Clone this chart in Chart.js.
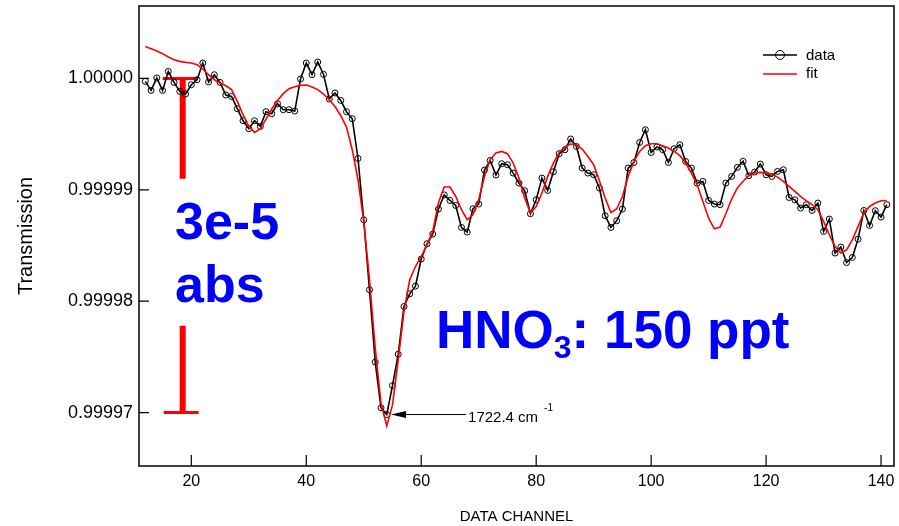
<!DOCTYPE html>
<html>
<head>
<meta charset="utf-8">
<script src="https://cdn.jsdelivr.net/npm/chart.js@4.4.1/dist/chart.umd.min.js"></script>
<style>
  html, body { margin: 0; padding: 0; background: #fff; }
</style>
</head>
<body>
<canvas id="spec" width="899" height="526"></canvas>
<script>
/* HNO3 transmission spectrum: measured channels vs. fitted line shape */

const channels = Array.from({ length: 130 }, (_, i) => 12 + i);   // 12 .. 141

const dataValues = [
  0.99999973, 0.99999892, 1.00000004, 0.99999892, 1.00000063, 0.99999964, 0.99999883, 0.99999860, 0.99999943, 0.99999988,
  1.00000138, 0.99999968, 1.00000033, 0.99999964, 0.99999851, 0.99999838, 0.99999728, 0.99999620, 0.99999548, 0.99999620,
  0.99999569, 0.99999701, 0.99999683, 0.99999773, 0.99999719, 0.99999719, 0.99999707, 0.99999995, 1.00000138, 1.00000033,
  1.00000147, 1.00000036, 0.99999815, 0.99999869, 0.99999802, 0.99999701, 0.99999638, 0.99999281, 0.99998731, 0.99998102,
  0.99997453, 0.99997042, 0.99996982, 0.99997242, 0.99997524, 0.99997952, 0.99998066, 0.99998135, 0.99998378, 0.99998515,
  0.99998602, 0.99998827, 0.99998954, 0.99998904, 0.99998859, 0.99998662, 0.99998620, 0.99998830, 0.99998872, 0.99999177,
  0.99999263, 0.99999132, 0.99999234, 0.99999225, 0.99999150, 0.99999060, 0.99998991, 0.99998785, 0.99998910, 0.99999105,
  0.99998994, 0.99999162, 0.99999324, 0.99999360, 0.99999456, 0.99999389, 0.99999195, 0.99999150, 0.99999135, 0.99999016,
  0.99998767, 0.99998662, 0.99998722, 0.99998827, 0.99999195, 0.99999245, 0.99999425, 0.99999539, 0.99999335, 0.99999384,
  0.99999360, 0.99999245, 0.99999369, 0.99999404, 0.99999254, 0.99999195, 0.99999060, 0.99999075, 0.99998904, 0.99998872,
  0.99998866, 0.99999060, 0.99999120, 0.99999201, 0.99999256, 0.99999126, 0.99999159, 0.99999231, 0.99999135, 0.99999120,
  0.99999165, 0.99999180, 0.99998931, 0.99998910, 0.99998836, 0.99998866, 0.99998814, 0.99998881, 0.99998626, 0.99998737,
  0.99998432, 0.99998486, 0.99998347, 0.99998392, 0.99998557, 0.99998814, 0.99998680, 0.99998812, 0.99998755, 0.99998866
];

const fitValues = [
  1.00000287, 1.00000267, 1.00000246, 1.00000222, 1.00000192, 1.00000168, 1.00000153, 1.00000144, 1.00000138, 1.00000123,
  1.00000084, 1.00000033, 0.99999988, 0.99999959, 0.99999934, 0.99999899, 0.99999793, 0.99999674, 0.99999569, 0.99999515,
  0.99999546, 0.99999635, 0.99999725, 0.99999802, 0.99999863, 0.99999907, 0.99999925, 0.99999937, 0.99999941, 0.99999923,
  0.99999899, 0.99999860, 0.99999809, 0.99999748, 0.99999665, 0.99999563, 0.99999360, 0.99999090, 0.99998716, 0.99998192,
  0.99997578, 0.99997084, 0.99996880, 0.99997069, 0.99997473, 0.99997907, 0.99998192, 0.99998311, 0.99998401, 0.99998506,
  0.99998626, 0.99998883, 0.99999025, 0.99999025, 0.99998940, 0.99998821, 0.99998731, 0.99998776, 0.99998910, 0.99999120,
  0.99999270, 0.99999330, 0.99999344, 0.99999324, 0.99999240, 0.99999105, 0.99998926, 0.99998791, 0.99998850, 0.99998971,
  0.99999120, 0.99999240, 0.99999335, 0.99999384, 0.99999411, 0.99999404, 0.99999366, 0.99999299, 0.99999225, 0.99999081,
  0.99998926, 0.99998796, 0.99998827, 0.99998940, 0.99999120, 0.99999254, 0.99999344, 0.99999395, 0.99999413, 0.99999413,
  0.99999395, 0.99999375, 0.99999344, 0.99999306, 0.99999240, 0.99999150, 0.99999045, 0.99998895, 0.99998746, 0.99998650,
  0.99998665, 0.99998785, 0.99998917, 0.99999016, 0.99999077, 0.99999126, 0.99999150, 0.99999156, 0.99999150, 0.99999141,
  0.99999114, 0.99999075, 0.99999030, 0.99998985, 0.99998940, 0.99998901, 0.99998866, 0.99998821, 0.99998716, 0.99998596,
  0.99998491, 0.99998432, 0.99998461, 0.99998551, 0.99998671, 0.99998791, 0.99998850, 0.99998881, 0.99998901, 0.99998904
];

const xTicks = [20, 40, 60, 80, 100, 120, 140];
const yTicks = [0.99997, 0.99998, 0.99999, 1.0];
const xRange = [10.9, 142.25];
const yRange = [0.9999652, 1.0000065];

const FONT = 'Arial, "Liberation Sans", Helvetica, sans-serif';
const BLUE = '#0000ff';
const RED = '#ff0000';

// scale bar showing 3e-5 absorbance, drawn in data space beneath the traces
const scaleBar = { channel: 18.5, top: 1.0, bottom: 0.99997, gapTop: 0.999991, gapBottom: 0.9999778 };
const peakChannel = 54;

const underlay = {
  id: 'underlay',
  beforeDatasetsDraw(chart) {
    const { ctx, scales: { x, y } } = chart;
    const bx = x.getPixelForValue(scaleBar.channel);
    const yTop = y.getPixelForValue(scaleBar.top);
    const yBot = y.getPixelForValue(scaleBar.bottom);
    ctx.save();
    ctx.strokeStyle = RED;
    ctx.lineWidth = 6;
    ctx.beginPath();
    ctx.moveTo(bx, yTop); ctx.lineTo(bx, y.getPixelForValue(scaleBar.gapTop));
    ctx.moveTo(bx, y.getPixelForValue(scaleBar.gapBottom)); ctx.lineTo(bx, yBot);
    ctx.stroke();
    ctx.lineWidth = 3;
    ctx.beginPath();
    ctx.moveTo(bx - 20, yTop); ctx.lineTo(bx + 15, yTop);
    ctx.moveTo(bx - 19, yBot); ctx.lineTo(bx + 16, yBot);
    ctx.stroke();
    ctx.restore();
  }
};

const overlay = {
  id: 'overlay',
  afterDraw(chart) {
    const { ctx, chartArea: a, scales: { x, y } } = chart;
    ctx.save();

    // frame + inward tick marks
    ctx.strokeStyle = '#000';
    ctx.lineWidth = 1.5;
    ctx.strokeRect(a.left, a.top, a.right - a.left, a.bottom - a.top);
    ctx.lineWidth = 1.2;
    ctx.beginPath();
    xTicks.forEach(v => { const px = x.getPixelForValue(v); ctx.moveTo(px, a.bottom); ctx.lineTo(px, a.bottom - 11); });
    yTicks.forEach(v => { const py = y.getPixelForValue(v); ctx.moveTo(a.left, py); ctx.lineTo(a.left + 10, py); });
    ctx.stroke();

    // legend
    ctx.lineWidth = 1.5;
    ctx.strokeStyle = '#000';
    ctx.beginPath(); ctx.moveTo(763, 55); ctx.lineTo(797, 55); ctx.stroke();
    ctx.lineWidth = 1;
    ctx.beginPath(); ctx.arc(780, 55, 4.5, 0, Math.PI * 2); ctx.stroke();
    ctx.strokeStyle = RED;
    ctx.lineWidth = 1.6;
    ctx.beginPath(); ctx.moveTo(763, 74); ctx.lineTo(797, 74); ctx.stroke();
    ctx.fillStyle = '#000';
    ctx.font = '15px ' + FONT;
    ctx.textBaseline = 'middle';
    ctx.fillText('data', 806, 56);
    ctx.fillText('fit', 806, 74);

    // peak marker arrow
    const tipX = x.getPixelForValue(peakChannel + 0.75);
    const tipY = y.getPixelForValue(dataValues[channels.indexOf(peakChannel)]);
    ctx.strokeStyle = '#000';
    ctx.lineWidth = 1;
    ctx.beginPath(); ctx.moveTo(tipX + 10, tipY); ctx.lineTo(tipX + 75, tipY); ctx.stroke();
    ctx.beginPath();
    ctx.moveTo(tipX, tipY); ctx.lineTo(tipX + 15, tipY - 3.5); ctx.lineTo(tipX + 15, tipY + 3.5);
    ctx.closePath(); ctx.fill();
    ctx.textBaseline = 'alphabetic';
    ctx.font = '15px ' + FONT;
    const lbl = '1722.4 cm';
    ctx.fillText(lbl, tipX + 77, tipY + 7);
    const lw = ctx.measureText(lbl).width;
    ctx.font = '10px ' + FONT;
    ctx.fillText('-1', tipX + 77 + lw + 6, tipY - 4);

    // big blue labels
    ctx.fillStyle = BLUE;
    ctx.font = 'bold 52px ' + FONT;
    ctx.fillText('3e-5', 175, 239);
    ctx.fillText('abs', 175, 302);
    ctx.font = 'bold 53px ' + FONT;
    let tx = 436;
    ctx.fillText('HNO', tx, 348);
    tx += ctx.measureText('HNO').width;
    ctx.font = 'bold 32px ' + FONT;
    ctx.fillText('3', tx, 358);
    tx += ctx.measureText('3').width;
    ctx.font = 'bold 53px ' + FONT;
    ctx.fillText(': 150 ppt', tx, 348);

    ctx.restore();
  }
};

new Chart(document.getElementById('spec'), {
  type: 'line',
  data: {
    datasets: [
      {
        label: 'fit',
        data: channels.map((c, i) => ({ x: c, y: fitValues[i] })),
        borderColor: RED,
        borderWidth: 1.6,
        pointRadius: 0,
        tension: 0,
        order: 0
      },
      {
        label: 'data',
        data: channels.map((c, i) => ({ x: c, y: dataValues[i] })),
        borderColor: '#000',
        borderWidth: 1.6,
        pointRadius: 3,
        pointBorderWidth: 1,
        pointBorderColor: '#000',
        pointBackgroundColor: 'rgba(255,255,255,0)',
        tension: 0,
        order: 1
      }
    ]
  },
  options: {
    responsive: false,
    animation: false,
    devicePixelRatio: 1,
    layout: { padding: { left: 0, right: 3, top: 6, bottom: 0 } },
    plugins: { legend: { display: false }, tooltip: { enabled: false } },
    scales: {
      x: {
        type: 'linear',
        min: xRange[0], max: xRange[1],
        grid: { display: false, drawTicks: false },
        border: { display: false },
        afterBuildTicks: s => { s.ticks = xTicks.map(v => ({ value: v })); },
        afterFit: s => { s.height = 60; s.paddingLeft = 0; s.paddingRight = 0; },
        ticks: { color: '#000', font: { family: FONT, size: 16 }, padding: 6, maxRotation: 0, autoSkip: false, callback: v => String(v) },
        title: { display: true, text: 'DATA CHANNEL', color: '#000', font: { family: FONT, size: 15 }, padding: { top: 0, bottom: 0 } }
      },
      y: {
        type: 'linear',
        min: yRange[0], max: yRange[1],
        grid: { display: false, drawTicks: false },
        border: { display: false },
        afterBuildTicks: s => { s.ticks = yTicks.map(v => ({ value: v })); },
        afterFit: s => { s.width = 139; s.paddingTop = 0; s.paddingBottom = 0; },
        ticks: { color: '#000', font: { family: FONT, size: 18 }, padding: 6, callback: v => v.toFixed(5) },
        title: { display: true, text: 'Transmission', color: '#000', font: { family: FONT, size: 20 }, padding: { top: 14, bottom: 0 } }
      }
    }
  },
  plugins: [underlay, overlay]
});
</script>
</body>
</html>
